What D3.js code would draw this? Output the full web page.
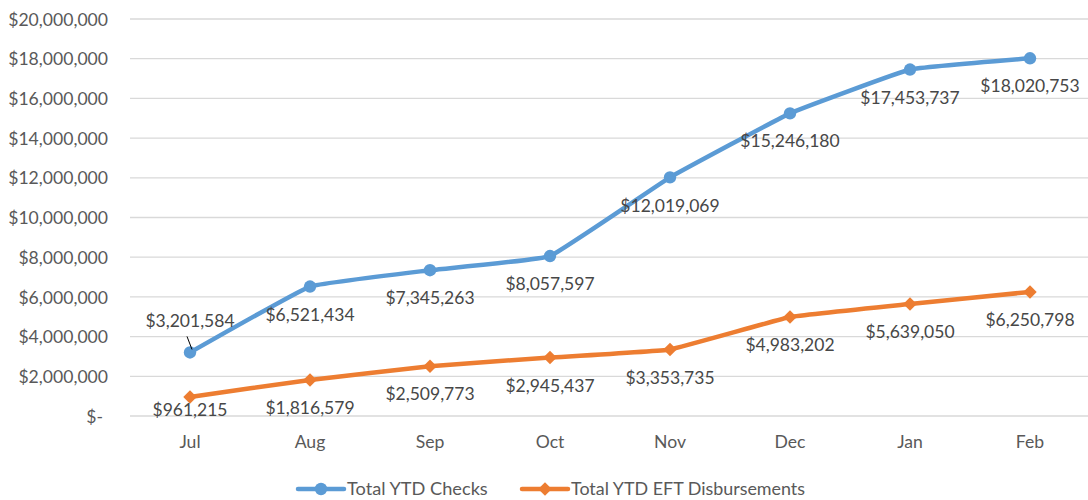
<!DOCTYPE html>
<html><head><meta charset="utf-8">
<script src="https://cdn.jsdelivr.net/npm/d3@7"></script>
<style>
body{margin:0;background:#fff;}
svg text{font-family:Lato,"Liberation Sans",sans-serif;}
</style></head>
<body><svg id="c" width="1088" height="500"></svg>
<script>
const months = ["Jul","Aug","Sep","Oct","Nov","Dec","Jan","Feb"];
const checks = [3201584,6521434,7345263,8057597,12019069,15246180,17453737,18020753];
const eft = [961215,1816579,2509773,2945437,3353735,4983202,5639050,6250798];
const yTicks = [0,2000000,4000000,6000000,8000000,10000000,12000000,14000000,16000000,18000000,20000000];
const seriesNames = ["Total YTD Checks","Total YTD EFT Disbursements"];
const colors = ["#5B9BD5","#ED7D31"];

const svg = d3.select("#c");
const x = d3.scaleBand().domain(months).range([130,1090]);
const y = d3.scaleLinear().domain([0,20000000]).range([416,19]);
const cx = m => x(m)+x.bandwidth()/2;

// gridlines
svg.append("g").selectAll("line").data(yTicks).join("line")
  .attr("x1",130).attr("x2",1088).attr("y1",d=>y(d)).attr("y2",d=>y(d))
  .attr("stroke","#d9d9d9").attr("stroke-width",1.3);

// y axis labels
const fmt = d => d===0 ? "$-" : "$"+d3.format(",")(d);
const yAxis = d3.axisLeft(y).tickValues(yTicks).tickFormat(fmt).tickSize(0).tickPadding(0);
const yg = svg.append("g").attr("transform","translate(108,0)").call(yAxis);
yg.select(".domain").remove();
yg.selectAll("text").attr("fill","#595959").style("font-size","17.6px").attr("dy","0.35em");
yg.selectAll(".tick").filter(d=>d===0).select("text").attr("dx","-5");

// x axis labels
const xAxis = d3.axisBottom(x).tickSize(0).tickPadding(0);
const xg = svg.append("g").attr("transform","translate(0,442)").call(xAxis);
xg.select(".domain").remove();
xg.selectAll("text").attr("fill","#595959").style("font-size","17.6px").attr("dy","0.35em");

const line = d3.line().x((d,i)=>cx(months[i])).y(d=>y(d)).curve(d3.curveCardinal.tension(0.75));
[checks,eft].forEach((s,k)=>{
  svg.append("path").datum(s).attr("d",line).attr("fill","none")
    .attr("stroke",colors[k]).attr("stroke-width",4.5).attr("stroke-linejoin","round").attr("stroke-linecap","round");
});
// markers
svg.append("g").selectAll("circle").data(checks).join("circle")
  .attr("cx",(d,i)=>cx(months[i])).attr("cy",d=>y(d)).attr("r",6.2).attr("fill",colors[0]);
const diamond = d3.symbol().type(d3.symbolDiamond2).size(115);
svg.append("g").selectAll("path").data(eft).join("path")
  .attr("d",diamond).attr("transform",(d,i)=>`translate(${cx(months[i])},${y(d)})`).attr("fill",colors[1]);

// data labels
const lab = svg.append("g").attr("fill","#474747").style("font-size","17.5px").attr("text-anchor","middle");
checks.forEach((v,i)=>{
  let ly = y(v)+28;
  if(i===0){
    ly = y(v)-32;
    svg.append("line").attr("x1",cx(months[i])-3).attr("y1",ly+16).attr("x2",cx(months[i])+2).attr("y2",y(v)-3)
      .attr("stroke","#000").attr("stroke-width",1);
  }
  lab.append("text").attr("x",cx(months[i])).attr("y",ly).attr("dy","0.35em").text("$"+d3.format(",")(v));
});
eft.forEach((v,i)=>{
  let ly = Math.min(y(v)+28, 410);
  lab.append("text").attr("x",cx(months[i])).attr("y",ly).attr("dy","0.35em").text("$"+d3.format(",")(v));
});

// legend
const leg = svg.append("g");
const items = [{x:298,k:0},{x:522,k:1}];
items.forEach(it=>{
  const g = leg.append("g").attr("transform",`translate(${it.x},489)`);
  g.append("line").attr("x1",0).attr("x2",46).attr("stroke",colors[it.k]).attr("stroke-width",4.5).attr("stroke-linecap","round");
  if(it.k===0) g.append("circle").attr("cx",23).attr("r",6.2).attr("fill",colors[0]);
  else g.append("path").attr("d",diamond).attr("transform","translate(23,0)").attr("fill",colors[1]);
  g.append("text").attr("x",49).attr("dy","0.35em").attr("fill","#595959").style("font-size",it.k===0?"18.2px":"17.9px").text(seriesNames[it.k]);
});
</script></body></html>
